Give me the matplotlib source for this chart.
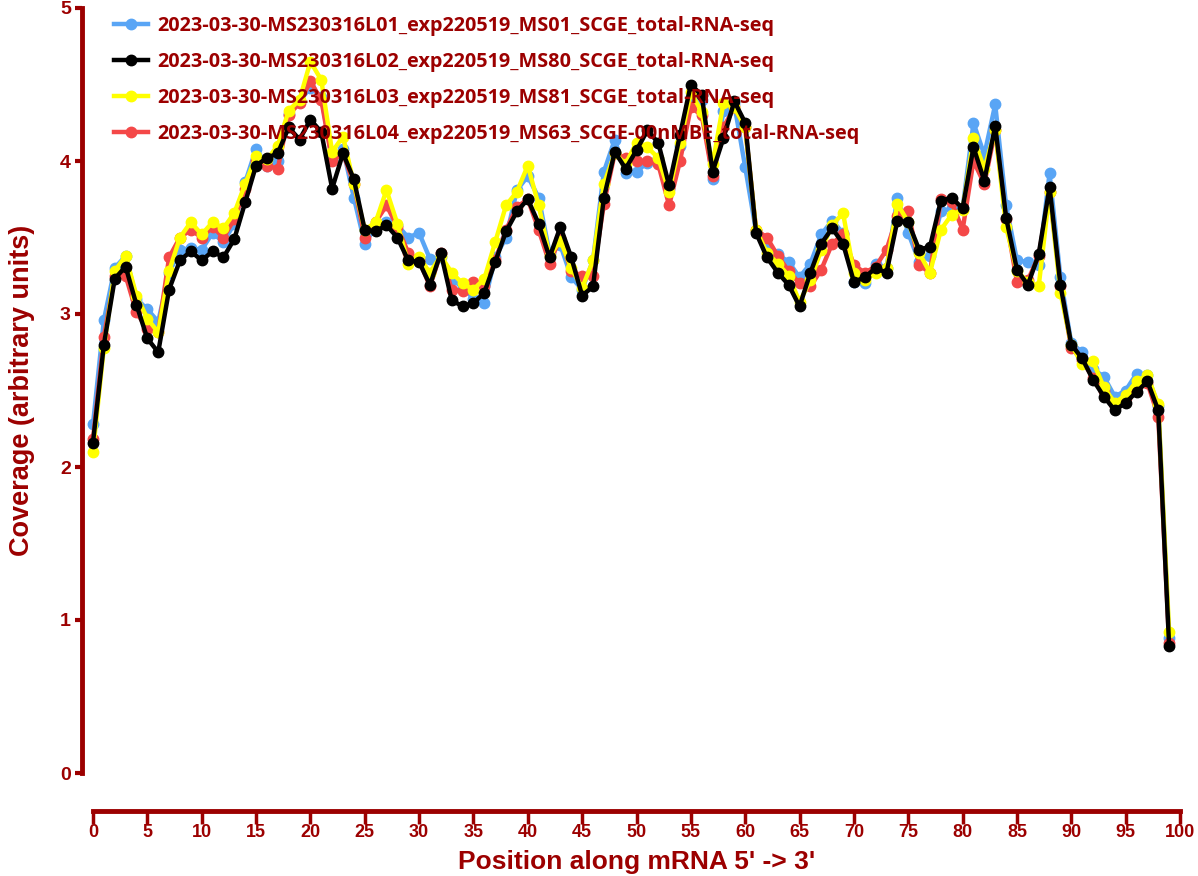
import numpy as np
import matplotlib
matplotlib.use("Agg")
from matplotlib import pyplot as plt

positions = list(range(100))

labels = [
    "2023-03-30-MS230316L01_exp220519_MS01_SCGE_total-RNA-seq",
    "2023-03-30-MS230316L02_exp220519_MS80_SCGE_total-RNA-seq",
    "2023-03-30-MS230316L03_exp220519_MS81_SCGE_total-RNA-seq",
    "2023-03-30-MS230316L04_exp220519_MS63_SCGE-00nMBE_total-RNA-seq",
]

cov_l01 = [
    2.28, 2.96, 3.30, 3.38, 3.10, 3.03, 2.95, 3.27, 3.42, 3.43,
    3.42, 3.53, 3.47, 3.59, 3.86, 4.08, 3.97, 4.00, 4.31, 4.39,
    4.48, 4.42, 4.01, 4.08, 3.76, 3.46, 3.57, 3.60, 3.58, 3.50,
    3.53, 3.36, 3.37, 3.22, 3.18, 3.10, 3.07, 3.37, 3.50, 3.81,
    3.90, 3.76, 3.40, 3.45, 3.24, 3.16, 3.35, 3.93, 4.14, 3.92,
    3.93, 3.99, 4.02, 3.82, 4.10, 4.42, 4.40, 3.88, 4.33, 4.37,
    3.96, 3.54, 3.43, 3.39, 3.34, 3.24, 3.33, 3.52, 3.61, 3.53,
    3.21, 3.20, 3.33, 3.30, 3.76, 3.53, 3.34, 3.38, 3.67, 3.69,
    3.69, 4.25, 4.04, 4.37, 3.71, 3.35, 3.34, 3.32, 3.92, 3.24,
    2.81, 2.75, 2.64, 2.59, 2.46, 2.50, 2.61, 2.60, 2.40, 0.88,
]

cov_l02 = [
    2.16, 2.80, 3.23, 3.31, 3.06, 2.84, 2.75, 3.16, 3.35, 3.41,
    3.35, 3.41, 3.37, 3.49, 3.73, 3.97, 4.02, 4.05, 4.22, 4.14,
    4.27, 4.19, 3.82, 4.05, 3.88, 3.55, 3.54, 3.58, 3.50, 3.35,
    3.34, 3.19, 3.40, 3.09, 3.05, 3.07, 3.14, 3.34, 3.54, 3.67,
    3.75, 3.59, 3.37, 3.57, 3.37, 3.12, 3.18, 3.76, 4.06, 3.95,
    4.07, 4.20, 4.12, 3.84, 4.17, 4.50, 4.43, 3.93, 4.15, 4.39,
    4.25, 3.53, 3.37, 3.27, 3.19, 3.05, 3.27, 3.46, 3.56, 3.46,
    3.21, 3.24, 3.30, 3.27, 3.61, 3.60, 3.42, 3.44, 3.74, 3.76,
    3.69, 4.09, 3.87, 4.23, 3.63, 3.29, 3.19, 3.39, 3.83, 3.19,
    2.80, 2.71, 2.57, 2.46, 2.37, 2.42, 2.49, 2.56, 2.37, 0.83,
]

cov_l03 = [
    2.10, 2.78, 3.28, 3.38, 3.12, 2.97, 2.88, 3.28, 3.50, 3.60,
    3.52, 3.60, 3.56, 3.66, 3.85, 4.03, 4.01, 4.10, 4.33, 4.40,
    4.65, 4.53, 4.06, 4.16, 3.85, 3.55, 3.60, 3.81, 3.59, 3.33,
    3.37, 3.27, 3.38, 3.27, 3.20, 3.16, 3.23, 3.47, 3.71, 3.80,
    3.97, 3.71, 3.38, 3.48, 3.30, 3.17, 3.35, 3.85, 4.05, 3.98,
    4.12, 4.09, 4.02, 3.80, 4.12, 4.45, 4.32, 3.98, 4.38, 4.35,
    4.22, 3.55, 3.40, 3.33, 3.25, 3.08, 3.22, 3.42, 3.58, 3.66,
    3.27, 3.22, 3.27, 3.30, 3.72, 3.60, 3.40, 3.27, 3.55, 3.65,
    3.68, 4.15, 3.95, 4.20, 3.57, 3.28, 3.21, 3.18, 3.80, 3.14,
    2.80, 2.67, 2.69, 2.52, 2.42, 2.47, 2.56, 2.60, 2.41, 0.92,
]

cov_l04 = [
    2.18, 2.85, 3.25, 3.25, 3.01, 2.90, 2.88, 3.37, 3.50, 3.55,
    3.50, 3.57, 3.50, 3.62, 3.82, 4.00, 3.97, 3.95, 4.30, 4.38,
    4.52, 4.40, 4.00, 4.05, 3.85, 3.50, 3.60, 3.71, 3.57, 3.40,
    3.35, 3.18, 3.40, 3.16, 3.15, 3.21, 3.18, 3.35, 3.55, 3.70,
    3.75, 3.55, 3.33, 3.50, 3.28, 3.25, 3.25, 3.72, 4.05, 4.02,
    4.00, 4.00, 3.98, 3.71, 4.00, 4.35, 4.30, 3.90, 4.22, 4.35,
    4.22, 3.55, 3.50, 3.38, 3.28, 3.20, 3.18, 3.29, 3.46, 3.52,
    3.32, 3.27, 3.31, 3.42, 3.64, 3.67, 3.32, 3.27, 3.75, 3.73,
    3.55, 4.00, 3.85, 4.20, 3.62, 3.21, 3.22, 3.38, 3.80, 3.18,
    2.78, 2.70, 2.58, 2.50, 2.40, 2.45, 2.52, 2.55, 2.33, 0.85,
]

colors = ["#59a5f5", "#000000", "#ffff00", "#f44848"]
series = [cov_l01, cov_l02, cov_l03, cov_l04]
zorders = [2, 5, 4, 3]

dark_red = "#9c0000"
plt.rcParams['font.family'] = ['Liberation Sans', 'DejaVu Sans']

fig = plt.figure(figsize=(11.98, 8.76), dpi=100)
ax = fig.add_axes([93 / 1198, 103 / 876, 1087 / 1198, 765 / 876])

for vals, col, lab, z in zip(series, colors, labels, zorders):
    ax.plot(positions, vals, color=col, lw=3.2, marker='o', ms=7.5,
            label=lab, zorder=z, clip_on=False)

ax.set_xlim(0, 100)
ax.set_ylim(0, 5)
ax.set_xticks(np.arange(0, 101, 5))
ax.set_yticks(np.arange(0, 6, 1))

for side in ['top', 'right']:
    ax.spines[side].set_visible(False)
ax.spines['bottom'].set_position(('outward', 27))
ax.spines['left'].set_position(('outward', 8))
for side in ['bottom', 'left']:
    ax.spines[side].set_color(dark_red)
    ax.spines[side].set_linewidth(3.5)

ax.tick_params(axis='x', colors=dark_red, length=9, width=2.5, labelsize=13, pad=1)
ax.tick_params(axis='y', colors=dark_red, length=5, width=3, labelsize=14, pad=3)
for t in ax.get_xticklabels() + ax.get_yticklabels():
    t.set_fontweight('bold')

ax.set_xlabel("Position along mRNA 5' -> 3'", color=dark_red, fontsize=19,
              fontweight='bold', labelpad=6)
ax.set_ylabel("Coverage (arbitrary units)", color=dark_red, fontsize=19.5,
              fontweight='bold', labelpad=18)

leg = ax.legend(loc='upper left', bbox_to_anchor=(0.012, 1.0), frameon=False,
                borderaxespad=0,
                prop={'family': ['Open Sans', 'DejaVu Sans'], 'weight': 'bold', 'size': 14.3},
                handlelength=1.7, labelspacing=0.8, handletextpad=0.5)
for txt in leg.get_texts():
    txt.set_color(dark_red)

fig.savefig("out.png", dpi=100)
